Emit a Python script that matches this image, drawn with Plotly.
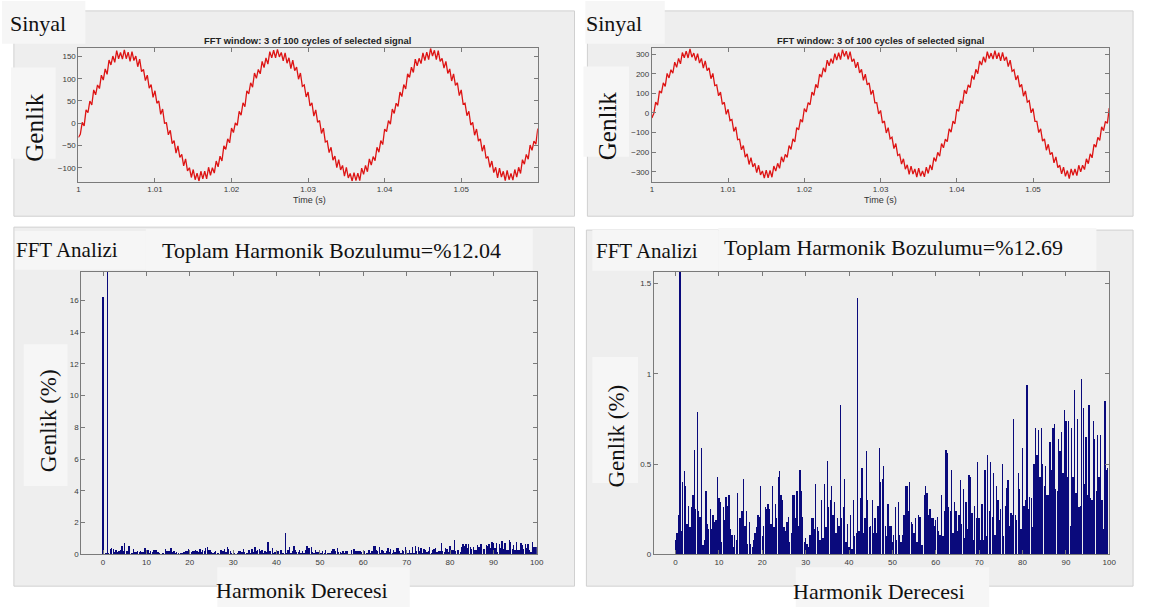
import plotly.graph_objects as go

W, H = 1150, 612

# ---------------- data ----------------
T_START = 1.0
T_STEP = 0.00025  # s between samples

SIG_LEFT = [
    -32, -25, 2, -6, 30, 24, 50, 41, 75, 64,
    86, 78, 108, 97, 122, 110, 142, 131, 151, 137,
    163, 145, 159, 144, 165, 145, 160, 139, 161, 141,
    151, 127, 144, 116, 121, 96, 108, 79, 87, 58,
    73, 45, 50, 20, 32, 0, 1, -26, -16, -46,
    -39, -67, -51, -77, -70, -96, -80, -107, -100, -122,
    -104, -127, -112, -130, -108, -125, -108, -125, -99, -117,
    -100, -112, -85, -98, -74, -85, -51, -59, -35, -44,
    -11, -21, 1, -5, 27, 18, 46, 37, 73, 66,
    91, 81, 113, 101, 121, 111, 139, 125, 147, 133,
    161, 147, 164, 147, 166, 149, 159, 140, 158, 135,
    147, 123, 142, 118, 126, 99, 113, 83, 86, 59,
    70, 39, 46, 16, 30, 2, 6, -23, -11, -42,
    -40, -66, -54, -83, -74, -100, -82, -105, -95, -119,
    -99, -123, -113, -130, -111, -129, -112, -129, -101, -115,
    -95, -109, -80, -94, -75, -84, -54, -65, -39, -48,
    -13, -19, 6, -2, 32, 22, 45, 38, 70, 60,
    87, 77, 111, 103, 126, 114, 144, 129, 146, 134,
    158, 141, 160, 143, 168, 151, 164, 143, 163, 139,
    146, 124, 139, 112, 122, 95, 111, 85, 91, 62,
    75, 43, 45, 17, 27, -4, 2, -27, -13, -40,
    -35, -63, -49, -79, -75, -99, -85, -111, -99, -123,
    -101, -121, -108, -129, -106, -127, -113, -128, -104, -121,
    -99, -113, -82, -92, -70, -81, -49, -61, -40, -47,
    -12,
]

SIG_RIGHT = [
    -25, -3, 55, 40, 113, 102, 154, 136, 202, 179,
    221, 203, 260, 233, 279, 251, 309, 282, 316, 281,
    328, 285, 306, 268, 303, 255, 279, 229, 266, 217,
    231, 175, 202, 140, 144, 88, 107, 44, 55, -7,
    19, -39, -33, -94, -71, -136, -134, -188, -166, -225,
    -209, -263, -228, -275, -257, -305, -267, -316, -296, -333,
    -292, -331, -294, -328, -271, -297, -257, -283, -224, -251,
    -211, -227, -166, -186, -132, -148, -75, -86, -33, -47,
    23, 5, 53, 42, 107, 90, 146, 128, 198, 183,
    231, 209, 270, 241, 277, 253, 303, 270, 308, 273,
    324, 289, 316, 274, 313, 263, 277, 231, 260, 205,
    223, 167, 198, 144, 154, 94, 117, 52, 53, -5,
    13, -51, -41, -102, -75, -132, -124, -182, -156, -217,
    -211, -261, -234, -287, -265, -313, -271, -312, -286, -327,
    -282, -323, -296, -326, -277, -309, -265, -291, -228, -247,
    -201, -221, -156, -178, -134, -146, -81, -98, -41, -55,
    19, 9, 63, 48, 117, 98, 144, 130, 192, 171,
    223, 201, 266, 245, 287, 259, 313, 278, 306, 275,
    318, 277, 308, 266, 309, 267, 287, 237, 270, 213,
    221, 169, 192, 132, 146, 86, 113, 56, 63, 1,
    23, -43, -43, -100, -81, -144, -132, -190, -160, -213,
    -201, -255, -224, -279, -267, -311, -277, -324, -294, -335,
    -286, -319, -286, -320, -267, -301, -267, -289, -234, -259,
    -209, -229, -160, -174, -124, -140, -71, -90, -43, -53,
    25,
]

H_STEP = 1.0 / 3.0  # harmonic resolution (3-cycle window)

FFT_LEFT = [
    16.2, 0.05, 0.08, 100, 0.12, 0.35, 0.42, 0.36, 0.16, 0.25,
    0.14, 0.24, 0.31, 0.55, 0.23, 0.72, 0.22, 0.20, 0.56, 0.05,
    0.08, 0.33, 0.16, 0.13, 0.23, 0.13, 0.20, 0.17, 0.18, 0.40,
    0.29, 0.27, 0.07, 0.24, 0.18, 0.30, 0.25, 0.31, 0.13, 0.10,
    0.04, 0.10, 0.08, 0.32, 0.19, 0.19, 0.22, 0.40, 0.15, 0.22,
    0.06, 0.17, 0.06, 0.04, 0.08, 0.11, 0.14, 0.21, 0.20, 0.36,
    0.09, 0.15, 0.24, 0.23, 0.26, 0.23, 0.16, 0.36, 0.14, 0.26,
    0.19, 0.40, 0.44, 0.31, 0.28, 0.14, 0.12, 0.17, 0.20, 0.07,
    0.11, 0.31, 0.31, 0.19, 0.33, 0.15, 0.44, 0.33, 0.20, 0.07,
    0.08, 0.06, 0.04, 0.10, 0.19, 0.19, 0.13, 0.37, 0.14, 0.12,
    0.08, 0.28, 0.08, 0.37, 0.14, 0.49, 0.24, 0.28, 0.36, 0.21,
    0.27, 0.11, 0.19, 0.15, 0.78, 0.19, 0.24, 0.40, 0.07, 0.16,
    0.04, 0.21, 0.03, 0.28, 0.09, 0.11, 1.35, 0.12, 0.29, 0.45,
    0.11, 0.19, 0.54, 0.28, 0.14, 0.15, 0.28, 0.11, 0.19, 0.11,
    0.25, 0.56, 0.38, 0.40, 0.46, 0.15, 0.09, 0.26, 0.15, 0.15,
    0.07, 0.10, 0.24, 0.08, 0.27, 0.10, 0.07, 0.10, 0.21, 0.36,
    0.36, 0.23, 0.38, 0.17, 0.16, 0.11, 0.19, 0.07, 0.21, 0.20,
    0.05, 0.05, 0.31, 0.36, 0.32, 0.21, 0.24, 0.19, 0.19, 0.15,
    0.18, 0.20, 0.12, 0.10, 0.31, 0.09, 0.23, 0.55, 0.53, 0.25,
    0.23, 0.44, 0.11, 0.27, 0.23, 0.12, 0.21, 0.39, 0.16, 0.34,
    0.09, 0.27, 0.13, 0.42, 0.41, 0.22, 0.08, 0.26, 0.19, 0.48,
    0.19, 0.08, 0.26, 0.08, 0.44, 0.09, 0.52, 0.23, 0.48, 0.20,
    0.43, 0.10, 0.36, 0.28, 0.18, 0.24, 0.47, 0.09, 0.26, 0.35,
    0.39, 0.15, 0.22, 0.21, 0.71, 0.21, 0.18, 0.43, 0.34, 0.13,
    0.56, 0.26, 0.28, 0.88, 0.24, 0.30, 0.29, 0.14, 0.47, 0.66,
    0.52, 0.65, 0.41, 0.66, 0.47, 0.36, 0.46, 0.31, 0.31, 0.59,
    0.44, 0.66, 0.68, 0.34, 0.33, 0.61, 0.54, 0.64, 0.43, 0.76,
    0.70, 0.41, 0.70, 0.15, 0.66, 0.41, 0.86, 0.32, 0.71, 0.25,
    0.26, 0.90, 0.77, 0.37, 0.62, 0.31, 0.79, 0.29, 0.28, 0.70,
    0.61, 0.33, 0.63, 0.41, 0.63, 0.28, 0.13, 0.80, 0.45, 0.46,
    0.45,
]

FFT_RIGHT = [
    0.08, 0.12, 0.22, 100, 0.13, 0.40, 0.46, 0.38, 0.17, 0.27,
    0.15, 0.26, 0.33, 0.58, 0.25, 0.79, 0.24, 0.21, 0.59, 0.05,
    0.08, 0.35, 0.17, 0.14, 0.25, 0.14, 0.22, 0.18, 0.19, 0.43,
    0.31, 0.29, 0.07, 0.26, 0.19, 0.32, 0.27, 0.33, 0.14, 0.11,
    0.04, 0.11, 0.08, 0.34, 0.20, 0.20, 0.24, 0.42, 0.16, 0.24,
    0.06, 0.18, 0.06, 0.04, 0.08, 0.12, 0.15, 0.22, 0.21, 0.38,
    0.10, 0.16, 0.26, 0.25, 0.28, 0.25, 0.17, 0.38, 0.15, 0.28,
    0.20, 0.43, 0.46, 0.33, 0.30, 0.15, 0.13, 0.18, 0.21, 0.07,
    0.12, 0.33, 0.33, 0.20, 0.35, 0.16, 0.47, 0.35, 0.21, 0.07,
    0.09, 0.06, 0.04, 0.11, 0.20, 0.20, 0.14, 0.39, 0.15, 0.13,
    0.08, 0.30, 0.09, 0.39, 0.15, 0.52, 0.26, 0.30, 0.38, 0.22,
    0.29, 0.12, 0.20, 0.16, 0.83, 0.20, 0.26, 0.42, 0.07, 0.17,
    0.04, 0.22, 0.03, 0.30, 0.10, 0.12, 1.42, 0.13, 0.31, 0.48,
    0.12, 0.20, 0.57, 0.30, 0.15, 0.16, 0.30, 0.12, 0.20, 0.12,
    0.27, 0.59, 0.40, 0.42, 0.49, 0.16, 0.10, 0.28, 0.16, 0.16,
    0.07, 0.11, 0.26, 0.08, 0.29, 0.11, 0.07, 0.11, 0.22, 0.38,
    0.38, 0.24, 0.40, 0.18, 0.17, 0.12, 0.20, 0.07, 0.22, 0.21,
    0.05, 0.05, 0.33, 0.38, 0.34, 0.22, 0.25, 0.20, 0.20, 0.16,
    0.19, 0.21, 0.13, 0.11, 0.33, 0.10, 0.24, 0.58, 0.56, 0.26,
    0.24, 0.47, 0.12, 0.29, 0.24, 0.13, 0.22, 0.41, 0.17, 0.36,
    0.09, 0.29, 0.14, 0.44, 0.43, 0.23, 0.08, 0.27, 0.20, 0.51,
    0.20, 0.08, 0.28, 0.08, 0.47, 0.10, 0.55, 0.24, 0.51, 0.21,
    0.45, 0.11, 0.38, 0.30, 0.19, 0.25, 0.50, 0.10, 0.27, 0.37,
    0.41, 0.16, 0.23, 0.22, 0.75, 0.22, 0.19, 0.45, 0.36, 0.14,
    0.59, 0.27, 0.30, 0.94, 0.25, 0.32, 0.31, 0.15, 0.50, 0.70,
    0.55, 0.69, 0.43, 0.70, 0.50, 0.38, 0.49, 0.33, 0.33, 0.62,
    0.47, 0.70, 0.72, 0.36, 0.35, 0.64, 0.57, 0.68, 0.45, 0.80,
    0.74, 0.43, 0.74, 0.16, 0.70, 0.43, 0.91, 0.34, 0.75, 0.26,
    0.27, 0.97, 0.81, 0.39, 0.65, 0.33, 0.83, 0.31, 0.30, 0.74,
    0.64, 0.35, 0.66, 0.43, 0.66, 0.30, 0.14, 0.85, 0.47, 0.48,
    0.47,
]

THD_LEFT = "12.04"
THD_RIGHT = "12.69"

TIME_TICKS = [1, 1.01, 1.02, 1.03, 1.04, 1.05]
TIME_TICKTEXT = ["1", "1.01", "1.02", "1.03", "1.04", "1.05"]
HARM_TICKS = [0, 10, 20, 30, 40, 50, 60, 70, 80, 90, 100]
Y_TL_TICKS = [-100, -50, 0, 50, 100, 150]
Y_TR_TICKS = [-300, -200, -100, 0, 100, 200, 300]
Y_BL_TICKS = [0, 2, 4, 6, 8, 10, 12, 14, 16]
Y_BR_TICKS = [0, 0.5, 1, 1.5]
Y_BR_TEXT = ["0", "0.5", "1", "1.5"]

t_left = [T_START + k * T_STEP for k in range(len(SIG_LEFT))]
t_right = [T_START + k * T_STEP for k in range(len(SIG_RIGHT))]
h_left = [i * H_STEP for i in range(len(FFT_LEFT))]
h_right = [i * H_STEP for i in range(len(FFT_RIGHT))]

# ---------------- helpers (pixel -> paper) ----------------
def px(x):
    return x / W

def py(y):
    return 1 - y / H

SERIF = "Liberation Serif, Times New Roman, serif"
SANS = "Liberation Sans, Arial, Helvetica, sans-serif"
AXC = "#7a7a7a"
TICKC = "#3a3a3a"

fig = go.Figure()

SIG_COLOR = "#dd1414"
BAR_COLOR = "#0a0a7c"

fig.add_trace(go.Scatter(x=t_left, y=SIG_LEFT, mode="lines",
                         line=dict(color=SIG_COLOR, width=1.3), xaxis="x", yaxis="y",
                         showlegend=False))
fig.add_trace(go.Scatter(x=t_right, y=SIG_RIGHT, mode="lines",
                         line=dict(color=SIG_COLOR, width=1.3), xaxis="x2", yaxis="y2",
                         showlegend=False))
fig.add_trace(go.Bar(x=h_left, y=FFT_LEFT, width=0.3,
                     marker=dict(color=BAR_COLOR, line=dict(width=0)),
                     xaxis="x3", yaxis="y3", showlegend=False))
fig.add_trace(go.Bar(x=h_right, y=FFT_RIGHT, width=0.3,
                     marker=dict(color=BAR_COLOR, line=dict(width=0)),
                     xaxis="x4", yaxis="y4", showlegend=False))

def ax(domain, rng, tickvals, ticktext=None, anchor=None):
    d = dict(domain=domain, range=rng, tickvals=tickvals, showgrid=False, zeroline=False,
             showline=True, linecolor=AXC, linewidth=1, mirror="ticks", ticks="inside",
             ticklen=4, tickcolor=AXC, tickwidth=1,
             tickfont=dict(family=SANS, size=8, color=TICKC), fixedrange=True)
    if ticktext is not None:
        d["ticktext"] = ticktext
    if anchor:
        d["anchor"] = anchor
    return d

# plot areas in pixels
TL = (77, 540, 48, 183)
TR = (655, 1116, 48, 183)
BL = (80, 539, 274, 559)
BR = (657, 1116, 274, 559)

def xd(a):
    return [px(a[0]), px(a[1])]

def yd(a):
    return [py(a[3]), py(a[2])]

layout = dict(
    width=W, height=H, margin=dict(l=0, r=0, t=0, b=0),
    paper_bgcolor="white", plot_bgcolor="white", bargap=0, barmode="overlay",
    xaxis=ax(xd(TL), [1, 1.06], TIME_TICKS, TIME_TICKTEXT, "y"),
    yaxis=ax(yd(TL), [-131, 170], Y_TL_TICKS, None, "x"),
    xaxis2=ax(xd(TR), [1, 1.06], TIME_TICKS, TIME_TICKTEXT, "y2"),
    yaxis2=ax(yd(TR), [-350, 334], Y_TR_TICKS, None, "x2"),
    xaxis3=ax(xd(BL), [-5, 100], HARM_TICKS, None, "y3"),
    yaxis3=ax(yd(BL), [0, 17.8], Y_BL_TICKS, None, "x3"),
    xaxis4=ax(xd(BR), [-5, 100], HARM_TICKS, None, "y4"),
    yaxis4=ax(yd(BR), [0, 1.565], Y_BR_TICKS, Y_BR_TEXT, "x4"),
)
fig.update_layout(**layout)

shapes = []

def rect(x0, y0, x1, y1, fill, line="rgba(0,0,0,0)", lw=0, layer="below"):
    shapes.append(dict(type="rect", xref="paper", yref="paper",
                       x0=px(x0), x1=px(x1), y0=py(y1), y1=py(y0),
                       fillcolor=fill, line=dict(color=line, width=lw), layer=layer))

FRAME = "#eeeeee"
FRAME_LINE = "#d0d0d0"
BOX = "#f6f6f6"
# panel frames
rect(12, 11, 577, 218, FRAME, FRAME_LINE, 1)
rect(590, 11, 1140, 218, FRAME, FRAME_LINE, 1)
rect(12, 229, 577, 591, FRAME, FRAME_LINE, 1)
rect(589, 232, 1140, 591, FRAME, FRAME_LINE, 1)
# label boxes
rect(0, 1, 84, 44, BOX)
rect(9, 68, 54, 160, BOX)
rect(588, 1, 668, 44, BOX)
rect(586, 67, 632, 158, BOX)
rect(13, 233, 145, 272, BOX)
rect(145, 231, 535, 273, BOX)
rect(22, 347, 66, 490, BOX)
rect(217, 572, 411, 612, BOX)
rect(595, 232, 722, 273, BOX)
rect(722, 230, 1103, 273, BOX)
rect(595, 360, 641, 487, BOX)
rect(800, 572, 995, 612, BOX)

fig.update_layout(shapes=shapes)

ann = []

def text(x, y, s, size, family=SERIF, angle=0, color="#111111"):
    ann.append(dict(xref="paper", yref="paper", x=px(x), y=py(y), text=s, showarrow=False,
                    xanchor="center", yanchor="middle", textangle=angle,
                    font=dict(family=family, size=size, color=color)))

text(36, 24, "Sinyal", 22)
text(33, 128, "Genlik", 25, angle=-90)
text(617, 24, "Sinyal", 22)
text(611, 127, "Genlik", 25, angle=-90)
TITLE = "<b>FFT window: 3 of 100 cycles of selected signal</b>"
text(308, 41, TITLE, 9.4, SANS, color="#222222")
text(885, 41, TITLE, 9.4, SANS, color="#222222")
text(310, 202, "Time (s)", 9, SANS, color="#333333")
text(885, 202, "Time (s)", 9, SANS, color="#333333")

text(66, 252, "FFT Analizi", 21)
text(332, 253, "Toplam Harmonik Bozulumu=%" + THD_LEFT, 22)
text(47, 424, "Genlik (%)", 23, angle=-90)
text(302, 595, "Harmonik Derecesi", 22)

text(650, 253, "FFT Analizi", 21)
text(899, 250, "Toplam Harmonik Bozulumu=%" + THD_RIGHT, 22)
text(619, 440, "Genlik (%)", 23, angle=-90)
text(884, 596, "Harmonik Derecesi", 22)

fig.update_layout(annotations=ann)

fig.write_html("out.html", config={"displayModeBar": False, "staticPlot": True},
               post_script="document.body.style.margin='0';document.body.style.overflow='hidden';")
